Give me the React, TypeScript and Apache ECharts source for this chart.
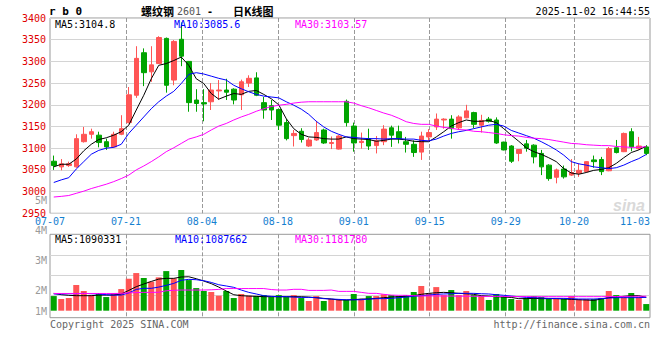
import React, { useEffect, useRef } from 'react';
import * as echarts from 'echarts';

// ---------- data ----------
const dates = [
  '07-07','07-08','07-09','07-10','07-11','07-14','07-15','07-16','07-17','07-18',
  '07-21','07-22','07-23','07-24','07-25','07-28','07-29','07-30','07-31','08-01',
  '08-04','08-05','08-06','08-07','08-08','08-11','08-12','08-13','08-14','08-15',
  '08-18','08-19','08-20','08-21','08-22','08-25','08-26','08-27','08-28','08-29',
  '09-01','09-02','09-03','09-04','09-05','09-08','09-09','09-10','09-11','09-12',
  '09-15','09-16','09-17','09-18','09-19','09-22','09-23','09-24','09-25','09-26',
  '09-29','09-30','10-09','10-10','10-13','10-14','10-15','10-16','10-17','10-20',
  '10-21','10-22','10-23','10-24','10-27','10-28','10-29','10-30','10-31','11-03'
];
const opens = [
  3070,3057,3060,3057,3115,3132,3130,3115,3103,3132,
  3159,3222,3320,3276,3295,3353,3257,3351,3300,3211,
  3205,3207,3232,3234,3236,3223,3250,3262,3205,3198,
  3189,3159,3129,3139,3105,3119,3142,3111,3098,3208,
  3151,3113,3122,3106,3115,3147,3138,3115,3109,3091,
  3126,3149,3165,3167,3147,3170,3182,3153,3167,3165,
  3114,3105,3088,3110,3107,3088,3061,3033,3052,3038,
  3042,3046,3073,3074,3048,3101,3092,3138,3099,3103
];
const closes = [
  3060,3064,3064,3122,3132,3138,3113,3103,3132,3145,
  3223,3307,3274,3292,3355,3245,3346,3312,3205,3203,
  3202,3234,3234,3229,3211,3253,3261,3222,3188,3188,
  3153,3122,3134,3120,3119,3136,3112,3113,3128,3159,
  3112,3116,3105,3117,3144,3130,3122,3109,3090,3128,
  3136,3167,3167,3145,3172,3186,3155,3164,3162,3112,
  3096,3070,3097,3100,3080,3057,3030,3050,3034,3044,
  3049,3069,3069,3046,3099,3090,3134,3103,3105,3088
];
const lows = [
  3050,3049,3057,3055,3113,3122,3102,3096,3101,3130,
  3157,3216,3243,3253,3294,3228,3245,3289,3184,3184,
  3162,3188,3211,3211,3201,3188,3241,3220,3168,3165,
  3142,3118,3104,3113,3103,3117,3110,3098,3097,3150,
  3092,3099,3096,3088,3107,3103,3111,3090,3080,3073,
  3116,3142,3145,3122,3142,3169,3146,3136,3159,3110,
  3095,3066,3070,3092,3065,3038,3025,3019,3030,3036,
  3034,3044,3055,3038,3047,3088,3091,3093,3096,3084
];
const highs = [
  3083,3075,3069,3132,3149,3145,3138,3122,3138,3176,
  3241,3335,3330,3335,3358,3355,3349,3390,3301,3236,
  3236,3250,3257,3260,3238,3258,3268,3275,3218,3211,
  3191,3168,3142,3146,3124,3163,3145,3127,3130,3212,
  3159,3136,3145,3128,3153,3152,3152,3126,3118,3138,
  3144,3180,3169,3176,3176,3200,3184,3177,3172,3171,
  3115,3107,3098,3119,3109,3096,3063,3053,3060,3075,
  3065,3070,3083,3080,3103,3119,3136,3146,3126,3107
];
const ma5 = [
  3057,3063,3063,3075,3094,3109,3120,3124,3130,3138,
  3153,3188,3222,3260,3291,3295,3302,3310,3291,3260,
  3249,3226,3213,3220,3226,3224,3231,3233,3224,3214,
  3200,3168,3145,3132,3126,3125,3122,3121,3121,3126,
  3122,3121,3120,3116,3118,3121,3121,3119,3116,3115,
  3115,3126,3138,3151,3159,3165,3162,3162,3164,3159,
  3145,3130,3116,3101,3092,3086,3078,3069,3053,3043,
  3040,3044,3049,3051,3055,3065,3078,3090,3096,3104.8
];
const ma10 = [
  3021,3027,3032,3052,3069,3086,3095,3100,3102,3109,
  3134,3153,3172,3191,3207,3220,3231,3249,3270,3274,
  3271,3266,3261,3257,3245,3237,3230,3224,3220,3218,
  3216,3207,3199,3190,3178,3162,3149,3139,3132,3126,
  3125,3123,3122,3122,3121,3122,3122,3121,3121,3118,
  3117,3121,3128,3134,3138,3141,3145,3149,3153,3155,
  3151,3141,3135,3129,3123,3115,3106,3096,3084,3069,
  3064,3061,3057,3055,3053,3055,3061,3069,3076,3085.6
];
const ma30 = [
  2987.5,2989,2991,2996,3001,3007,3012,3017,3023,3030,
  3038,3050,3059,3069,3080,3092,3101,3111,3121,3126,
  3132,3142,3151,3157,3165,3172,3178,3185,3191,3196,
  3199,3201,3204,3206,3207,3207,3207,3207,3207,3207,
  3204,3198,3193,3187,3181,3176,3169,3161,3157,3155,
  3155,3151,3148,3146,3143,3142,3139,3138,3136,3134,
  3131,3129,3128,3125,3123,3122,3120,3117,3114,3111,
  3110,3108,3107,3106,3106,3104,3103,3102,3102,3103.57
];
const volumes = [
  1190000,950000,1030000,2090000,1600000,1270000,1440000,1110000,1440000,1760000,
  2600000,3060000,2660000,2360000,2710000,3220000,2630000,3310000,2490000,1840000,
  1600000,1520000,1220000,1600000,1030000,1360000,1220000,1190000,1270000,1110000,
  1270000,1110000,1270000,1030000,790000,1190000,790000,950000,950000,870000,
  1360000,950000,1190000,1190000,1330000,1270000,1190000,1270000,1520000,2010000,
  1410000,1920000,1270000,1680000,1270000,1600000,1270000,1190000,870000,1360000,
  1190000,950000,870000,1030000,1190000,1110000,950000,950000,950000,1190000,
  950000,950000,950000,1030000,1600000,1270000,1110000,1440000,1110000,540000
];
const volMa5 = [
  1410000,1300000,1250000,1220000,1220000,1220000,1270000,1270000,1270000,1360000,
  1650000,1950000,2170000,2380000,2570000,2630000,2630000,2740000,2760000,2600000,
  2410000,2200000,1920000,1600000,1300000,1220000,1190000,1170000,1140000,1140000,
  1140000,1140000,1140000,1140000,1110000,1060000,1000000,950000,870000,870000,
  890000,950000,950000,1000000,1060000,1110000,1140000,1170000,1220000,1330000,
  1410000,1460000,1490000,1460000,1410000,1380000,1330000,1220000,1190000,1140000,
  1110000,1080000,980000,980000,1000000,980000,980000,980000,950000,920000,
  890000,870000,840000,950000,1060000,1110000,1170000,1220000,1220000,1090331
];
const volMa10 = [
  1360000,1360000,1380000,1380000,1410000,1380000,1360000,1300000,1270000,1270000,
  1440000,1730000,1820000,1820000,1920000,2060000,2220000,2470000,2550000,2520000,
  2440000,2300000,2110000,2010000,1900000,1680000,1490000,1360000,1220000,1170000,
  1140000,1140000,1110000,1080000,1080000,1060000,980000,950000,920000,890000,
  890000,890000,950000,980000,980000,1000000,1060000,1110000,1170000,1220000,
  1270000,1330000,1360000,1380000,1410000,1410000,1410000,1380000,1360000,1300000,
  1250000,1190000,1140000,1080000,1060000,1030000,1000000,1000000,1000000,980000,
  950000,950000,950000,980000,1030000,1060000,1060000,1060000,1060000,1087662
];
const volMa30 = [
  1400000,1400000,1400000,1400000,1400000,1400000,1400000,1400000,1400000,1410000,
  1450000,1470000,1490000,1490000,1500000,1620000,1660000,1680000,1680000,1680000,
  1680000,1700000,1730000,1800000,1800000,1800000,1800000,1800000,1800000,1720000,
  1680000,1680000,1740000,1740000,1650000,1650000,1650000,1680000,1570000,1570000,
  1570000,1490000,1410000,1410000,1330000,1270000,1250000,1250000,1220000,1200000,
  1200000,1200000,1190000,1190000,1180000,1180000,1170000,1170000,1160000,1160000,
  1160000,1160000,1150000,1150000,1140000,1140000,1140000,1140000,1140000,1140000,
  1140000,1140000,1140000,1140000,1150000,1150000,1160000,1170000,1170000,1181780
];
const xTickLabels = ['07-07','07-21','08-04','08-18','09-01','09-15','09-29','10-20','11-03'];
const priceTicks = [2950, 3000, 3050, 3100, 3150, 3200, 3250, 3300, 3350, 3400];
const volTickLabels = [1, 2, 3, 4, 5]; // millions
const symbolName = 'r b 0';
const titleName = '螺纹钢';
const titleCode = '2601';
const titleSuffix = '日K线图';
const stampText = '2025-11-02 16:44:55';

// ---------- styles ----------
const RED = '#ff5555';
const GREEN = '#00a400';
const MONO = '"DejaVu Sans Mono", monospace';
const CJK = '"Noto Sans CJK SC", sans-serif';
const VGRID_LINE = { color: '#999999', type: 'dashed', width: 1 };
const HGRID_LINE = { color: '#d4d4d4', type: 'solid', width: 1 };

const pxPerM = 12.3; // volume panel scale (px per million)
const volTop = 234.3, volH = 83.4, volBase = 310.7;

export default function App() {
  const ref = useRef<HTMLDivElement>(null);
  useEffect(() => {
    const chart = echarts.init(ref.current as HTMLDivElement, null, { renderer: 'svg' });
    const tickIdx = new Set(dates.map((d, i) => (xTickLabels.includes(d) ? i : -1)).filter(i => i >= 0));
    const last = dates.length - 1;
    const labelInt = (i: number) => tickIdx.has(i);
    const splitInt = (i: number) => tickIdx.has(i) && i !== 0 && i !== last;
    const fmtLast = (arr: number[]) => String(arr[arr.length - 1]);
    const txt = (x: number, y: number, text: string, fill: string, font: string, align = 'left') => ({
      type: 'text', x, y, silent: true, z: 50,
      style: { text, fill, font, align, textAlign: align, verticalAlign: 'middle', textVerticalAlign: 'middle' }
    });
    const volMin = -((volTop + volH - volBase) / pxPerM) * 1e6;
    const volMax = ((volBase - volTop) / pxPerM) * 1e6;
    const volLabelMax = volTickLabels[volTickLabels.length - 1] + 1;

    const option: any = {
      animation: false,
      backgroundColor: '#fff',
      grid: [
        { left: 50, right: 10, top: 18, height: 195.3, show: true, borderColor: '#999', borderWidth: 1, containLabel: false, outerBoundsMode: 'none' },
        { left: 50, right: 10, top: volTop, height: volH, show: true, borderColor: '#999', borderWidth: 1, containLabel: false, outerBoundsMode: 'none' },
        { left: 50, right: 10, top: 255.7, height: 40, show: false, containLabel: false, outerBoundsMode: 'none' },
        { left: 50, right: 10, top: 170.5, height: 150, show: false, containLabel: false, outerBoundsMode: 'none' }
      ],
      xAxis: [
        { type: 'category', gridIndex: 0, data: dates, boundaryGap: true, show: false, position: 'bottom' },
        {
          type: 'category', gridIndex: 0, data: dates, boundaryGap: false, position: 'bottom',
          axisLine: { show: false }, axisTick: { show: false },
          axisLabel: { interval: labelInt, color: '#1580d0', fontSize: 10, fontFamily: MONO, margin: 3, showMinLabel: true, showMaxLabel: true, alignMaxLabel: 'right', hideOverlap: false },
          splitLine: { show: true, interval: splitInt, lineStyle: VGRID_LINE }
        },
        { type: 'category', gridIndex: 1, data: dates, boundaryGap: true, show: false, position: 'bottom' },
        {
          type: 'category', gridIndex: 1, data: dates, boundaryGap: false, position: 'bottom',
          axisLine: { show: false }, axisTick: { show: false }, axisLabel: { show: false },
          splitLine: { show: true, interval: splitInt, lineStyle: VGRID_LINE }
        },
        { type: 'value', gridIndex: 2, show: false, min: 0, max: 1 },
        { type: 'value', gridIndex: 3, show: false, min: 0, max: 1 }
      ],
      yAxis: [
        {
          type: 'value', gridIndex: 0, min: priceTicks[0], max: priceTicks[priceTicks.length - 1], interval: priceTicks[1] - priceTicks[0],
          axisLine: { show: false }, axisTick: { show: false },
          axisLabel: { color: '#e00000', fontSize: 10, fontFamily: MONO, margin: 4, showMinLabel: true, showMaxLabel: true, formatter: (v: number) => String(v) },
          splitLine: { show: true, lineStyle: HGRID_LINE }
        },
        { type: 'value', gridIndex: 1, min: volMin, max: volMax, show: false, splitLine: { show: false } },
        {
          type: 'value', gridIndex: 2, min: 0, max: 40, interval: 20,
          axisLine: { show: false }, axisTick: { show: false }, axisLabel: { show: false },
          splitLine: { show: true, lineStyle: HGRID_LINE }
        },
        {
          type: 'value', gridIndex: 3, min: volTickLabels[0], max: volLabelMax, interval: 1,
          axisLine: { show: false }, axisTick: { show: false }, splitLine: { show: false },
          axisLabel: {
            color: '#9a9a9a', fontSize: 10, fontFamily: MONO, margin: 3, showMinLabel: true, showMaxLabel: false,
            formatter: (v: number) => (v > volTickLabels[volTickLabels.length - 1] ? '' : v === volTickLabels[0] ? '{low|' + v + 'M}' : v + 'M'),
            rich: { low: { color: '#9a9a9a', fontSize: 10, fontFamily: MONO, padding: [0, 0, 18, 0] } }
          }
        }
      ],
      series: [
        {
          type: 'candlestick', xAxisIndex: 0, yAxisIndex: 0, barWidth: 5,
          data: dates.map((_, i) => [opens[i], closes[i], lows[i], highs[i]]),
          itemStyle: { color: RED, color0: GREEN, borderColor: RED, borderColor0: GREEN, borderWidth: 1 },
          z: 2
        },
        { type: 'line', xAxisIndex: 0, yAxisIndex: 0, data: ma5, symbol: 'none', lineStyle: { color: '#000', width: 1 }, z: 3 },
        { type: 'line', xAxisIndex: 0, yAxisIndex: 0, data: ma10, symbol: 'none', lineStyle: { color: '#0000ff', width: 1 }, z: 3 },
        { type: 'line', xAxisIndex: 0, yAxisIndex: 0, data: ma30, symbol: 'none', lineStyle: { color: '#ff00ff', width: 1 }, z: 3 },
        {
          type: 'bar', xAxisIndex: 2, yAxisIndex: 1, barWidth: 6,
          data: volumes.map((v, i) => ({ value: v, itemStyle: { color: closes[i] >= opens[i] ? RED : GREEN } })),
          z: 2
        },
        { type: 'line', xAxisIndex: 2, yAxisIndex: 1, data: volMa5, symbol: 'none', lineStyle: { color: '#000', width: 1 }, z: 3 },
        { type: 'line', xAxisIndex: 2, yAxisIndex: 1, data: volMa10, symbol: 'none', lineStyle: { color: '#0000ff', width: 1 }, z: 3 },
        { type: 'line', xAxisIndex: 2, yAxisIndex: 1, data: volMa30, symbol: 'none', lineStyle: { color: '#ff00ff', width: 1 }, z: 3 }
      ],
      graphic: [
        txt(49, 11, symbolName, '#000', 'bold 11px ' + MONO),
        txt(141, 11, titleName, '#000', 'bold 11px ' + CJK),
        txt(177, 11, titleCode, '#555', '10px ' + MONO),
        txt(207, 11, '-', '#000', 'bold 10px ' + MONO),
        txt(233, 11, titleSuffix, '#000', 'bold 11px ' + CJK),
        txt(650, 11, stampText, '#000', '10px ' + MONO, 'right'),
        txt(55, 24, 'MA5:' + fmtLast(ma5), '#000', '10px ' + MONO),
        txt(174, 24, 'MA10:' + fmtLast(ma10), '#0000ff', '10px ' + MONO),
        txt(295, 24, 'MA30:' + fmtLast(ma30), '#ff00ff', '10px ' + MONO),
        txt(55, 239, 'MA5:' + fmtLast(volMa5), '#000', '10px ' + MONO),
        txt(175, 239, 'MA10:' + fmtLast(volMa10), '#0000ff', '10px ' + MONO),
        txt(295, 239, 'MA30:' + fmtLast(volMa30), '#ff00ff', '10px ' + MONO),
        txt(50, 324, 'Copyright 2025 SINA.COM', '#666', '10px ' + MONO),
        txt(650, 324, 'http://finance.sina.com.cn', '#666', '10px ' + MONO, 'right'),
        txt(613, 205, 'sina', '#d9d9d9', 'italic bold 16px "Liberation Sans", sans-serif')
      ]
    };
    chart.setOption(option);
    return () => chart.dispose();
  }, []);
  return <div ref={ref} style={{ position: 'fixed', left: 0, top: 0, width: 660, height: 360, background: '#fff' }} />;
}
